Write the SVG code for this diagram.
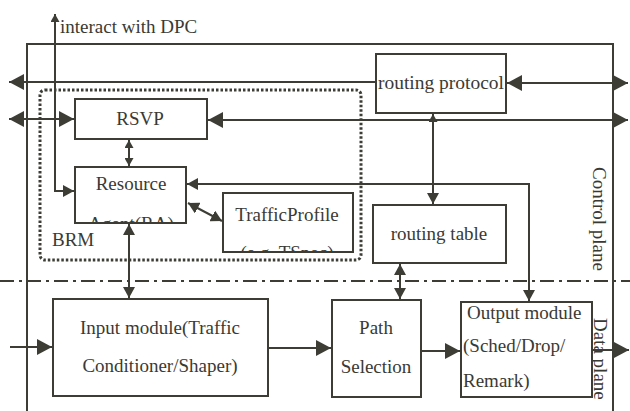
<svg xmlns="http://www.w3.org/2000/svg" width="630" height="411" viewBox="0 0 630 411">
<style>
  .box{fill:#fff;stroke:#3d3d36;stroke-width:2}
  .ln{fill:none;stroke:#3d3d36;stroke-width:2}
  .t{font-family:"Liberation Serif","Times New Roman",serif;font-size:19px;fill:#3a3a34}
  .c{text-anchor:middle}
</style>
<defs>
  <marker id="big" markerUnits="userSpaceOnUse" markerWidth="16" markerHeight="16" refX="15" refY="8" orient="auto-start-reverse">
    <path d="M0,0 L15,8 L0,16 Z" fill="#3d3d36"/>
  </marker>
  <marker id="med" markerUnits="userSpaceOnUse" markerWidth="12" markerHeight="12" refX="11" refY="6" orient="auto-start-reverse">
    <path d="M0,0 L11,6 L0,12 Z" fill="#3d3d36"/>
  </marker>
  <marker id="sm" markerUnits="userSpaceOnUse" markerWidth="9" markerHeight="9" refX="8" refY="4.5" orient="auto-start-reverse">
    <path d="M0,0 L8,4.5 L0,9 Z" fill="#3d3d36"/>
  </marker>
  <clipPath id="clipRA"><rect x="76" y="168" width="109" height="54"/></clipPath>
  <clipPath id="clipTP"><rect x="224" y="194" width="128" height="57"/></clipPath>
</defs>
<rect width="630" height="411" fill="#fff"/>

<g id="frame">
  <path class="ln" d="M27,411 V44 H613 V411"/>
  <rect x="40" y="90" width="321" height="170" rx="5" fill="none" stroke="#3d3d36" stroke-width="3" stroke-dasharray="2.5,2"/>
  <line x1="0" y1="281" x2="630" y2="281" stroke="#3d3d36" stroke-width="2" stroke-dasharray="14,5,3,5"/>
  <text class="t" x="60" y="33">interact with DPC</text>
  <text class="t" x="52" y="246">BRM</text>
  <text class="t" transform="translate(593,167) rotate(90)">Control plane</text>
  <text class="t" transform="translate(594,318) rotate(90)">Data plane</text>
</g>

<g id="connectors">
  <line class="ln" x1="9" y1="82" x2="376" y2="82" marker-start="url(#big)"/>
  <line class="ln" x1="507" y1="83" x2="628" y2="83" marker-start="url(#big)" marker-end="url(#big)"/>
  <line class="ln" x1="9" y1="119" x2="74" y2="119" marker-start="url(#big)" marker-end="url(#big)"/>
  <line class="ln" x1="208" y1="120" x2="628" y2="120" marker-start="url(#big)" marker-end="url(#big)"/>
  <polyline class="ln" points="55,14 55,191 74,191" marker-start="url(#sm)" marker-end="url(#med)"/>
  <line class="ln" x1="129" y1="140" x2="129" y2="166" marker-start="url(#sm)" marker-end="url(#sm)"/>
  <line class="ln" x1="433" y1="114" x2="433" y2="204" marker-start="url(#sm)" marker-end="url(#med)"/>
  <polyline class="ln" points="187,184 529,184 529,301" marker-start="url(#med)" marker-end="url(#med)"/>
  <line class="ln" x1="188" y1="203" x2="222" y2="221" marker-start="url(#med)" marker-end="url(#med)"/>
  <line class="ln" x1="129" y1="224" x2="129" y2="298" marker-start="url(#med)" marker-end="url(#med)"/>
  <line class="ln" x1="400" y1="264" x2="400" y2="299" marker-start="url(#med)" marker-end="url(#med)"/>
  <line class="ln" x1="10" y1="347" x2="52" y2="347" marker-end="url(#big)"/>
  <line class="ln" x1="268" y1="348" x2="331" y2="348" marker-end="url(#big)"/>
  <line class="ln" x1="421" y1="351" x2="460" y2="351" marker-end="url(#big)"/>
  <line class="ln" x1="584" y1="350" x2="629" y2="350" marker-end="url(#big)"/>
</g>

<g id="routing-protocol">
  <rect class="box" x="376" y="54" width="130" height="59"/>
  <text class="t c" x="441" y="89" textLength="126" lengthAdjust="spacingAndGlyphs">routing protocol</text>
</g>
<g id="rsvp">
  <rect class="box" x="75" y="99" width="132" height="40"/>
  <text class="t c" x="140" y="125">RSVP</text>
</g>
<g id="resource-agent">
  <rect class="box" x="75" y="167" width="111" height="56"/>
  <text class="t c" x="131" y="190">Resource</text>
  <text class="t c" x="131" y="230" clip-path="url(#clipRA)">Agent(RA)</text>
</g>
<g id="traffic-profile">
  <rect class="box" x="223" y="193" width="130" height="59"/>
  <text class="t c" x="287" y="221">TrafficProfile</text>
  <text class="t c" x="287" y="259" clip-path="url(#clipTP)">(e.g. TSpec)</text>
</g>
<g id="routing-table">
  <rect class="box" x="373" y="205" width="133" height="58"/>
  <text class="t c" x="439" y="240">routing table</text>
</g>
<g id="input-module">
  <rect class="box" x="53" y="299" width="215" height="97"/>
  <text class="t c" x="160" y="334">Input module(Traffic</text>
  <text class="t c" x="160" y="372">Conditioner/Shaper)</text>
</g>
<g id="path-selection">
  <rect class="box" x="332" y="300" width="89" height="97"/>
  <text class="t c" x="376" y="334">Path</text>
  <text class="t c" x="376" y="373">Selection</text>
</g>
<g id="output-module">
  <rect class="box" x="461" y="302" width="131" height="95"/>
  <text class="t" x="467" y="319">Output module</text>
  <text class="t" x="463" y="352">(Sched/Drop/</text>
  <text class="t" x="463" y="387">Remark)</text>
</g>
</svg>
